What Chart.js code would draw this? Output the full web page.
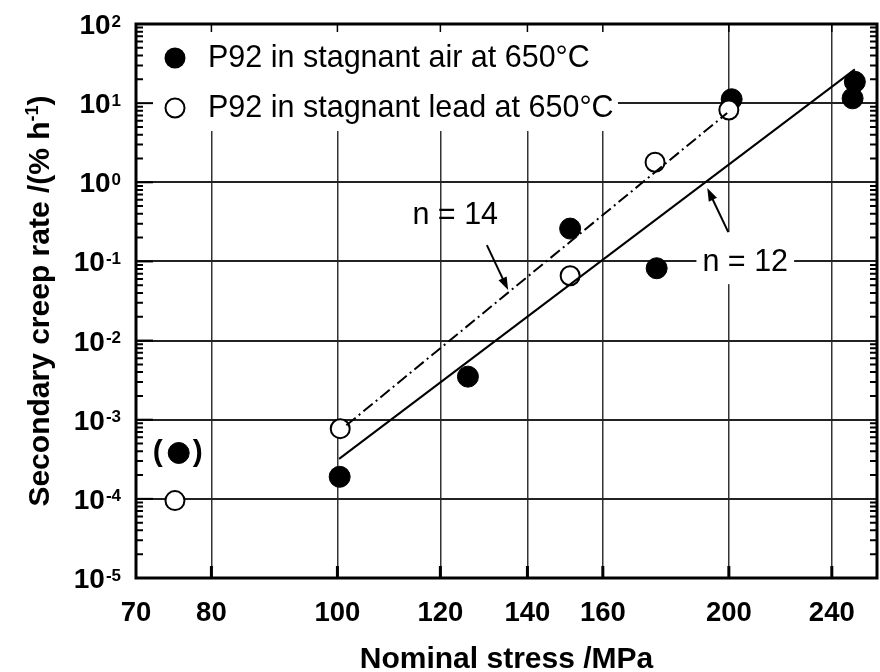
<!DOCTYPE html>
<html>
<head>
<meta charset="utf-8">
<script src="https://cdn.jsdelivr.net/npm/chart.js@4.4.1/dist/chart.umd.min.js"></script>
<style>
  html, body { margin: 0; padding: 0; background: #fff; }
  #wrap { width: 880px; height: 672px; }
</style>
</head>
<body>
<div id="wrap"><canvas id="creep"></canvas></div>
<script>
/* ---------- data ---------- */
const airStress = [75.5, 100.4, 126, 151, 176, 201, 250, 249];
const airRate = [3.8e-4, 1.9e-4, 3.5e-3, 0.26, 0.082, 11.2, 18.6, 11.5];
const leadStress = [75, 100.5, 151, 175.5, 200];
const leadRate = [9.5e-5, 7.7e-4, 0.066, 1.79, 8.2];
const fit12Stress = [100.3, 250];
const fit12Rate = [3.2e-4, 26.7];
const fit14Stress = [101.6, 199.4];
const fit14Rate = [8.5e-4, 7.5];
const xTicks = [70, 80, 100, 120, 140, 160, 200, 240];
const yExponents = [-5, -4, -3, -2, -1, 0, 1, 2];
const legendLabels = ["P92 in stagnant air at 650°C", "P92 in stagnant lead at 650°C"];

const pts = (xs, ys) => xs.map((x, i) => ({ x: x, y: ys[i] }));

const FONT = "'Liberation Sans', Arial, Helvetica, sans-serif";

/* ---------- frame, ticks, legend, labels ---------- */
const decorPlugin = {
  id: "decor",
  beforeDatasetsDraw(chart) {
    // legend area hides the grid
    const { ctx, chartArea: a } = chart;
    ctx.save();
    ctx.fillStyle = "#fff";
    ctx.fillRect(a.left, a.top, 482, 107);
    // white box behind "n = 12"
    const xs = chart.scales.x, ys = chart.scales.y;
    const tx = xs.getPixelForValue(205.9), ty = ys.getPixelForValue(0.098);
    ctx.font = "30.5px " + FONT;
    const w = ctx.measureText("n = 12").width;
    ctx.fillRect(tx - w / 2 - 6, ty - 30, w + 12, 52);
    ctx.restore();
  },
  afterDraw(chart) {
    const { ctx, chartArea: a } = chart;
    const xs = chart.scales.x, ys = chart.scales.y;
    ctx.save();
    ctx.strokeStyle = "#000";
    ctx.fillStyle = "#000";

    // minor ticks left / right
    ctx.lineWidth = 2;
    for (let e = -5; e < 2; e++) {
      for (let m = 2; m <= 9; m++) {
        const y = ys.getPixelForValue(m * Math.pow(10, e));
        ctx.beginPath();
        ctx.moveTo(a.left, y); ctx.lineTo(a.left + 7, y);
        ctx.moveTo(a.right, y); ctx.lineTo(a.right - 7, y);
        ctx.stroke();
      }
    }
    // major ticks left
    yExponents.forEach(e => {
      const y = ys.getPixelForValue(Math.pow(10, e));
      ctx.beginPath();
      ctx.moveTo(a.left, y); ctx.lineTo(a.left + 17, y);
      ctx.stroke();
    });
    // ticks bottom / top
    xTicks.slice(1).forEach(v => {
      const x = xs.getPixelForValue(v);
      ctx.lineWidth = 3;
      ctx.beginPath();
      ctx.moveTo(x, a.bottom); ctx.lineTo(x, a.bottom - 12);
      ctx.stroke();
      ctx.lineWidth = 1.5;
      ctx.beginPath();
      ctx.moveTo(x, a.top); ctx.lineTo(x, a.top + 8);
      ctx.stroke();
    });

    // frame
    ctx.lineWidth = 3;
    ctx.strokeRect(a.left, a.top, a.right - a.left, a.bottom - a.top);

    // y tick labels 10^n
    ctx.textAlign = "right";
    ctx.textBaseline = "alphabetic";
    yExponents.forEach(e => {
      const y = ys.getPixelForValue(Math.pow(10, e));
      const ex = String(e);
      ctx.font = "bold 17px " + FONT;
      const ew = ctx.measureText(ex).width;
      ctx.fillText(ex, 121, y + 2.5);
      ctx.font = "bold 28px " + FONT;
      ctx.fillText("10", 121 - ew - 1, y + 10);
    });

    // x tick labels
    ctx.textAlign = "center";
    ctx.textBaseline = "middle";
    ctx.font = "bold 27.5px " + FONT;
    xTicks.forEach(v => ctx.fillText(String(v), xs.getPixelForValue(v), 613));

    // x title
    ctx.font = "bold 30px " + FONT;
    ctx.fillText("Nominal stress /MPa", (a.left + a.right) / 2, 660);

    // y title with superscript
    ctx.save();
    ctx.translate(38, (a.top + a.bottom) / 2);
    ctx.rotate(-Math.PI / 2);
    ctx.textAlign = "left";
    ctx.textBaseline = "alphabetic";
    const p1 = "Secondary creep rate /(% h", p2 = "-1", p3 = ")";
    ctx.font = "bold 30px " + FONT;
    const w1 = ctx.measureText(p1).width, w3 = ctx.measureText(p3).width;
    ctx.font = "bold 18px " + FONT;
    const w2 = ctx.measureText(p2).width;
    let x0 = -(w1 + w2 + w3) / 2;
    ctx.font = "bold 30px " + FONT;
    ctx.fillText(p1, x0, 11);
    ctx.font = "bold 18px " + FONT;
    ctx.fillText(p2, x0 + w1, 0);
    ctx.font = "bold 30px " + FONT;
    ctx.fillText(p3, x0 + w1 + w2, 11);
    ctx.restore();

    // legend
    ctx.lineWidth = 2;
    ctx.beginPath();
    ctx.arc(175, 58, 10.5, 0, Math.PI * 2);
    ctx.fill();
    ctx.beginPath();
    ctx.arc(175, 108, 9.5, 0, Math.PI * 2);
    ctx.fillStyle = "#fff"; ctx.fill();
    ctx.fillStyle = "#000"; ctx.stroke();
    ctx.font = "30.5px " + FONT;
    ctx.textAlign = "left";
    ctx.textBaseline = "middle";
    ctx.fillText(legendLabels[0], 208, 59);
    ctx.fillText(legendLabels[1], 208, 109);

    // brackets round the 75 MPa air point
    const bx = xs.getPixelForValue(airStress[0]), by = ys.getPixelForValue(airRate[0]);
    ctx.font = "bold 30px " + FONT;
    ctx.textAlign = "center";
    ctx.fillText("(", bx - 21, by);
    ctx.fillText(")", bx + 19, by);

    // n labels and arrows
    ctx.font = "30.5px " + FONT;
    ctx.fillText("n = 14", xs.getPixelForValue(123.2), ys.getPixelForValue(0.374));
    ctx.fillText("n = 12", xs.getPixelForValue(205.9), ys.getPixelForValue(0.098));
    const arrow = (x1, y1, x2, y2) => {
      const ax = xs.getPixelForValue(x1), ay = ys.getPixelForValue(y1);
      const bx2 = xs.getPixelForValue(x2), by2 = ys.getPixelForValue(y2);
      const ang = Math.atan2(by2 - ay, bx2 - ax);
      ctx.lineWidth = 2;
      ctx.beginPath();
      ctx.moveTo(ax, ay);
      ctx.lineTo(bx2 - 8 * Math.cos(ang), by2 - 8 * Math.sin(ang));
      ctx.stroke();
      ctx.beginPath();
      ctx.moveTo(bx2, by2);
      ctx.lineTo(bx2 - 13 * Math.cos(ang) + 4.5 * Math.sin(ang), by2 - 13 * Math.sin(ang) - 4.5 * Math.cos(ang));
      ctx.lineTo(bx2 - 13 * Math.cos(ang) - 4.5 * Math.sin(ang), by2 - 13 * Math.sin(ang) + 4.5 * Math.cos(ang));
      ctx.closePath();
      ctx.fill();
    };
    arrow(130.3, 0.1607, 135.3, 0.0434);
    arrow(199.8, 0.2345, 192.5, 0.845);

    ctx.restore();
  },
};

new Chart(document.getElementById("creep"), {
  type: "scatter",
  plugins: [decorPlugin],
  data: {
    datasets: [
      {
        label: "n = 12",
        data: pts(fit12Stress, fit12Rate),
        showLine: true,
        borderColor: "#000",
        borderWidth: 2,
        pointRadius: 0,
      },
      {
        label: "n = 14",
        data: pts(fit14Stress, fit14Rate),
        showLine: true,
        borderColor: "#000",
        borderWidth: 2,
        borderDash: [12, 4, 2, 4],
        pointRadius: 0,
      },
      {
        label: legendLabels[1],
        data: pts(leadStress, leadRate),
        pointRadius: 9.5,
        pointBackgroundColor: "#fff",
        pointBorderColor: "#000",
        pointBorderWidth: 2,
      },
      {
        label: legendLabels[0],
        data: pts(airStress, airRate),
        pointRadius: 10.5,
        pointBackgroundColor: "#000",
        pointBorderColor: "#000",
        pointBorderWidth: 1,
      },
    ],
  },
  options: {
    responsive: true,
    maintainAspectRatio: false,
    animation: false,
    layout: { autoPadding: false, padding: { left: 136, top: 24, right: 3, bottom: 94 } },
    plugins: {
      legend: { display: false },
      tooltip: { enabled: false },
    },
    scales: {
      x: {
        type: "logarithmic",
        min: 70,
        max: 260,
        afterBuildTicks: s => { s.ticks = xTicks.map(v => ({ value: v })); },
        afterFit: s => { s.height = 0; },
        ticks: { display: false },
        grid: { color: "#333", lineWidth: 1.5, drawTicks: false },
        border: { display: false },
      },
      y: {
        type: "logarithmic",
        min: 1e-5,
        max: 1e2,
        afterBuildTicks: s => { s.ticks = yExponents.map(e => ({ value: Math.pow(10, e) })); },
        afterFit: s => { s.width = 0; },
        ticks: { display: false },
        grid: { color: "#222", lineWidth: 2, drawTicks: false },
        border: { display: false },
      },
    },
  },
});
</script>
</body>
</html>
